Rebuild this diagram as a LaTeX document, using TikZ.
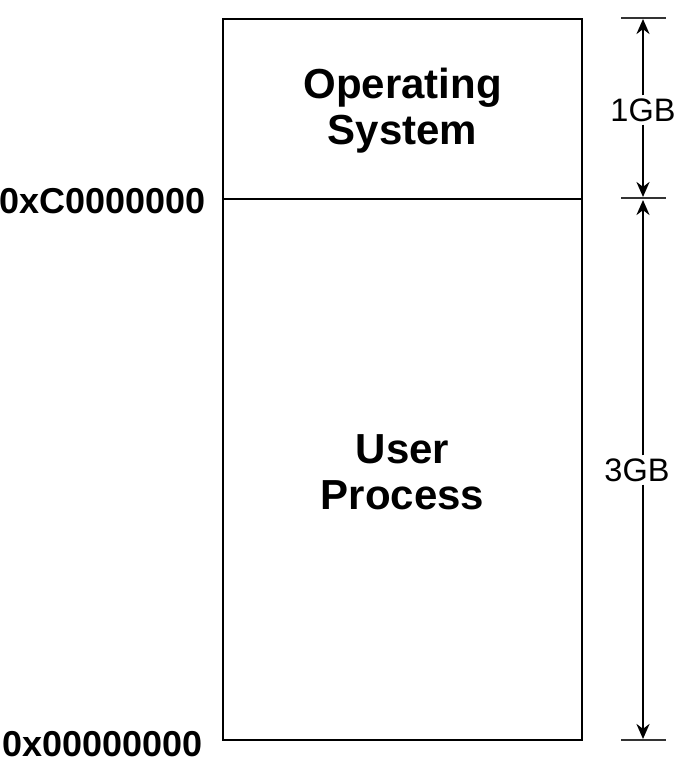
\documentclass[tikz,border=0pt]{standalone}
\usepackage{fontspec}
\setmainfont{Liberation Sans}
\usetikzlibrary{arrows.meta}
\begin{document}
\begin{tikzpicture}[x=1pt,y=-1pt,
  boxline/.style={line width=2.8pt,draw=black},
  tick/.style={line width=2.6pt,draw=black!80},
  dim/.style={line width=2.8pt,-{Stealth[length=15pt,width=13pt]}},
  biglabel/.style={font=\fontsize{42}{46}\selectfont\bfseries,align=center},
  addr/.style={font=\fontsize{36}{40}\selectfont\bfseries,anchor=east},
  size/.style={font=\fontsize{32.5}{36}\selectfont,fill=white,inner sep=3pt}]
\useasboundingbox (0,0) rectangle (675,771);
\coordinate (tl) at (223,19);
\coordinate (br) at (582,740);
\coordinate (ml) at (223,199);
\coordinate (mr) at (582,199);
\draw[boxline] (tl) rectangle (br);
\draw[boxline] (ml) -- (mr);
\node[biglabel] (os) at (402.5,111) {Operating\\System};
\node[biglabel] (up) at (402.5,472) {User\\Process};
\node[addr] (ac) at (209,201) {0xC0000000};
\node[addr] (a0) at (206,744) {0x00000000};
% ticks
\coordinate (t1a) at (621,18);  \coordinate (t1b) at (666,18);
\coordinate (t2a) at (621,198); \coordinate (t2b) at (666,198);
\coordinate (t3a) at (621,740); \coordinate (t3b) at (666,740);
\draw[tick] (t1a) -- (t1b);
\draw[tick] (t2a) -- (t2b);
\draw[tick] (t3a) -- (t3b);
\coordinate (p1) at (643,19);
\coordinate (p2) at (643,197);
\coordinate (p3) at (643,200);
\coordinate (p4) at (643,739);
\node[size] (g1) at (643,110) {1GB};
\node[size] (g3) at (637,470) {3GB};
\draw[dim] (p1 |- g1.north) -- (p1);
\draw[dim] (p2 |- g1.south) -- (p2);
\draw[dim] (p3 |- g3.north) -- (p3);
\draw[dim] (p4 |- g3.south) -- (p4);
\end{tikzpicture}
\end{document}
